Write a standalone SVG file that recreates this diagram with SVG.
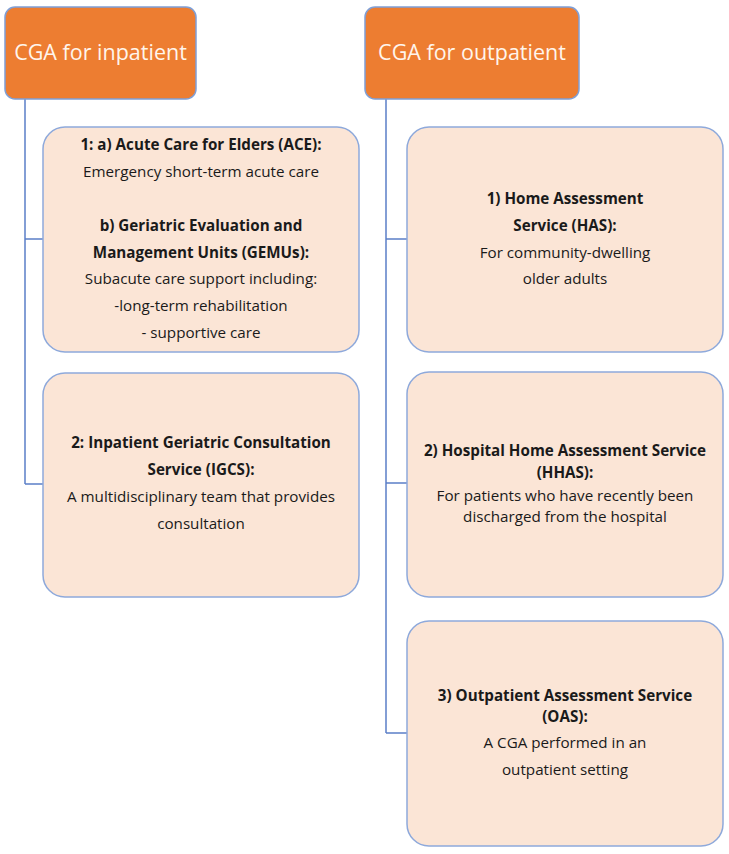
<svg xmlns="http://www.w3.org/2000/svg" width="729" height="854" viewBox="0 0 729 854">
<style>
.hdr{fill:#ED7D31;stroke:#7F9FD6;stroke-width:1.5}
.box{fill:#FBE5D6;stroke:#8EA9DB;stroke-width:1.5}
.ht{font-family:"Open Sans","Liberation Sans",Arial,sans-serif;font-size:21.5px;fill:#FFF5EC;text-anchor:middle}
.t{font-family:"Open Sans","Liberation Sans",Arial,sans-serif;font-size:15.2px;fill:#1a1a1a;text-anchor:middle}
.b{font-weight:bold}
.con{fill:none;stroke:#5B7FC7;stroke-width:1.5}
</style>
<g id="connectors">
<path class="con" d="M25 99 V484 M25 239 H43 M25 484 H43"/>
<path class="con" d="M386 99 V733 M386 239 H407 M386 483 H407 M386 733 H407"/>
</g>
<g id="inpatient">
<rect class="hdr" x="5" y="7" width="191" height="92" rx="10"/>
<text class="ht" x="100.5" y="60">CGA for inpatient</text>
</g>
<g id="outpatient">
<rect class="hdr" x="365" y="7" width="214" height="92" rx="10"/>
<text class="ht" x="472" y="60">CGA for outpatient</text>
</g>
<g id="ace-gemu">
<rect class="box" x="43" y="127" width="316" height="225" rx="22"/>
<text class="t b" x="201" y="150">1: a) Acute Care for Elders (ACE):</text>
<text class="t" x="201" y="177">Emergency short-term acute care</text>
<text class="t b" x="201" y="231">b) Geriatric Evaluation and</text>
<text class="t b" x="201" y="258">Management Units (GEMUs):</text>
<text class="t" x="201" y="284">Subacute care support including:</text>
<text class="t" x="201" y="311">-long-term rehabilitation</text>
<text class="t" x="201" y="338">- supportive care</text>
</g>
<g id="igcs">
<rect class="box" x="43" y="373" width="316" height="224" rx="22"/>
<text class="t b" x="201" y="448">2: Inpatient Geriatric Consultation</text>
<text class="t b" x="201" y="475">Service (IGCS):</text>
<text class="t" x="201" y="502">A multidisciplinary team that provides</text>
<text class="t" x="201" y="529">consultation</text>
</g>
<g id="has">
<rect class="box" x="407" y="127" width="316" height="225" rx="22"/>
<text class="t b" x="565" y="204">1) Home Assessment</text>
<text class="t b" x="565" y="231">Service (HAS):</text>
<text class="t" x="565" y="258">For community-dwelling</text>
<text class="t" x="565" y="284">older adults</text>
</g>
<g id="hhas">
<rect class="box" x="407" y="372" width="316" height="225" rx="22"/>
<text class="t b" x="565" y="456">2) Hospital Home Assessment Service</text>
<text class="t b" x="565" y="478">(HHAS):</text>
<text class="t" x="565" y="501">For patients who have recently been</text>
<text class="t" x="565" y="522">discharged from the hospital</text>
</g>
<g id="oas">
<rect class="box" x="407" y="621" width="316" height="225" rx="22"/>
<text class="t b" x="565" y="701">3) Outpatient Assessment Service</text>
<text class="t b" x="565" y="722">(OAS):</text>
<text class="t" x="565" y="748">A CGA performed in an</text>
<text class="t" x="565" y="775">outpatient setting</text>
</g>
</svg>
